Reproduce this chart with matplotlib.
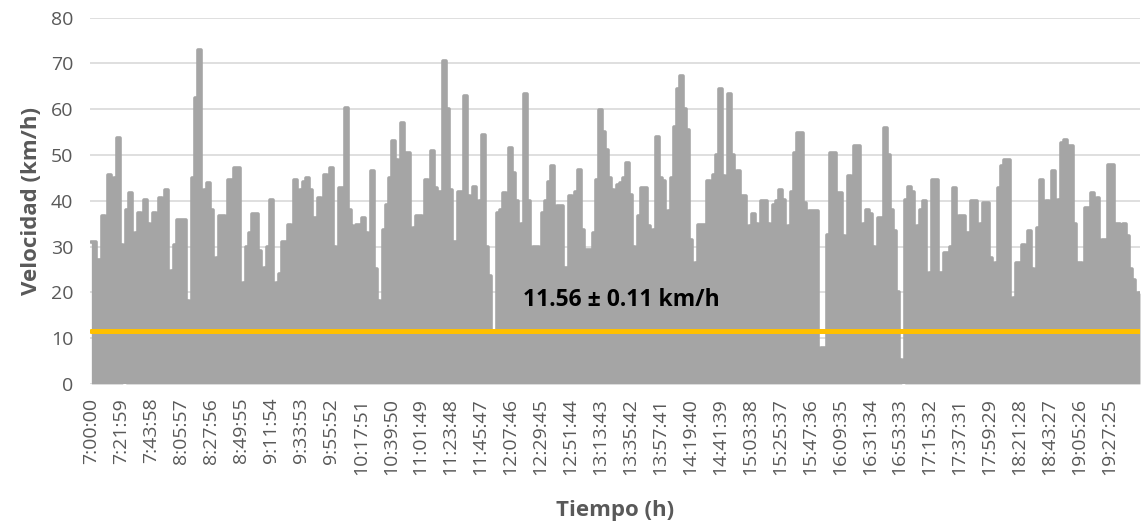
import matplotlib.pyplot as plt
import numpy as np

# speed envelope, one value every 132 s from 7:00:00
velocidad = [
    31, 31, 27, 27, 36.6, 34, 45.7, 34, 45, 53.7,
    30.4, 0, 38, 41.7, 32.6, 33, 37.3, 35, 40.2, 35,
    34, 37.3, 37, 40.6, 40, 42.4, 16.5, 24.6, 30.4, 35.8,
    35.8, 35.8, 18, 2, 45, 62.4, 73, 28.5, 42.4, 43.9,
    38, 25.6, 27.5, 36.6, 36.6, 27, 44.6, 44.6, 47.1, 47.1,
    18.4, 22, 30, 33, 37, 37, 29, 22.7, 25.3, 30,
    40.2, 15, 22, 24, 31, 31, 34.8, 30, 44.6, 30.7,
    42.4, 44, 45, 42.4, 36.2, 36.2, 40.6, 38, 45.7, 40,
    47.1, 30, 3, 42.8, 42.8, 60.3, 38, 34.4, 33, 34.8,
    34.8, 36.2, 33, 30.7, 46.4, 25, 18, 15, 33.7, 39,
    45, 53, 49, 31.5, 57, 50.4, 50.4, 19, 34, 36.6,
    36.6, 35, 44.6, 40, 50.8, 42.8, 42, 42, 70.5, 60,
    42.4, 31, 31, 42, 42, 62.8, 41, 35, 43, 36.6,
    40, 54.4, 30, 23.5, 10.7, 5.8, 37.3, 38, 41.7, 38,
    51.5, 46, 40, 25.6, 35, 63.2, 40, 27.5, 30, 30,
    24.6, 37.3, 40, 44, 47.5, 35, 38.8, 38.8, 25.3, 25.3,
    41, 38, 42, 46.8, 33.7, 29.3, 29.3, 29.3, 33, 44.6,
    59.9, 55, 51, 45, 42.4, 38.4, 43.5, 43.9, 45, 48.2,
    41.3, 30, 1, 36.6, 42.8, 42.8, 34.4, 30.7, 33.7, 54,
    45, 44.2, 33.7, 37.7, 45, 56.2, 64.3, 67.2, 60, 55.5,
    31.5, 3, 26.4, 34.8, 34.8, 34.8, 44.2, 40, 45.7, 50,
    64.3, 45.3, 37, 63.2, 50, 23.5, 46.4, 41, 41, 18.4,
    34.4, 37, 35, 30.7, 39.9, 39.9, 35, 31.5, 39.1, 40,
    42.4, 40.2, 30, 34.4, 42, 50.4, 54.8, 54.8, 39.5, 28.2,
    37.7, 37.7, 37.7, 4.2, 7.8, 7.8, 32.6, 50.4, 50.4, 41.7,
    41.7, 32.2, 30.4, 45.3, 35, 51.9, 51.9, 14, 35, 38,
    37, 30, 21.6, 36.2, 36.2, 55.9, 50, 38, 33.3, 20,
    5.2, 0, 40.2, 43.1, 42, 34, 34.4, 38, 39.9, 22.4,
    24.2, 44.6, 44.6, 24.2, 24.2, 28.6, 28.6, 30, 42.8, 30.4,
    36.6, 36.6, 32.9, 32.9, 39.9, 39.9, 33.7, 35, 39.5, 39.5,
    27.5, 12.9, 26.4, 42.8, 47.5, 49, 49, 12.5, 18.7, 26.4,
    26.4, 30.4, 30, 33.3, 25, 20.2, 34, 44.6, 35, 39.9,
    38, 46.4, 40, 40.2, 52.6, 53.3, 51.9, 51.9, 35, 26.4,
    26.4, 25.6, 38.4, 38.4, 41.7, 23, 40.6, 23.5, 31.5, 31.5,
    47.9, 47.9, 35, 35, 33.7, 35, 32.2, 25, 22.7, 19.1,
    19.8,
]
paso = 132  # seconds between samples
media = 11.56
error = 0.11

etiquetas = [
    "7:00:00", "7:21:59", "7:43:58", "8:05:57", "8:27:56", "8:49:55",
    "9:11:54", "9:33:53", "9:55:52", "10:17:51", "10:39:50", "11:01:49",
    "11:23:48", "11:45:47", "12:07:46", "12:29:45", "12:51:44", "13:13:43",
    "13:35:42", "13:57:41", "14:19:40", "14:41:39", "15:03:38", "15:25:37",
    "15:47:36", "16:09:35", "16:31:34", "16:53:33", "17:15:32", "17:37:31",
    "17:59:29", "18:21:28", "18:43:27", "19:05:26", "19:27:25",
]
salto = 1319  # seconds between labels

plt.rcParams['font.family'] = ['Open Sans', 'DejaVu Sans']

t = np.arange(len(velocidad)) * paso
v = np.array(velocidad)

fig = plt.figure(figsize=(11.42, 5.23), dpi=100)
ax = fig.add_axes([0.0788, 0.266, 0.9194, 0.7004])

gris = '#a5a5a5'
ax.fill_between(t, 0, v, color=gris, lw=0, step='mid', zorder=2)
ax.plot(t, v, color=gris, lw=2.6, drawstyle='steps-mid',
        solid_joinstyle='round', solid_capstyle='round', zorder=3)
ax.plot([t[0], t[-1]], [media, media], color='#ffc000', lw=3.6,
        solid_capstyle='round', zorder=4)
ax.text(23364, 18.4, f"{media:.2f} \u00b1 {error:.2f} km/h", ha='center',
        va='center', fontsize=16.5, fontweight='bold', color='black', zorder=5)

ax.set_ylim(0, 80)
ax.set_xlim(-60, t[-1])
ax.set_yticks(range(0, 81, 10))
ax.set_xticks(np.arange(len(etiquetas)) * salto)
ax.set_xticklabels(etiquetas, rotation=90)
ax.tick_params(axis='both', length=0, labelsize=14, colors='#595959')
ax.tick_params(axis='x', pad=10)
ax.tick_params(axis='y', pad=12)
ax.grid(axis='y', color='#d9d9d9', lw=1.2, zorder=0)
ax.set_axisbelow(True)
for s in ax.spines.values():
    s.set_visible(False)

ax.set_xlabel("Tiempo (h)", fontsize=16, fontweight='bold', color='#595959',
              labelpad=18)
ax.set_ylabel("Velocidad (km/h)", fontsize=16, fontweight='bold',
              color='#595959', labelpad=6)

fig.savefig('out.png', dpi=100)
